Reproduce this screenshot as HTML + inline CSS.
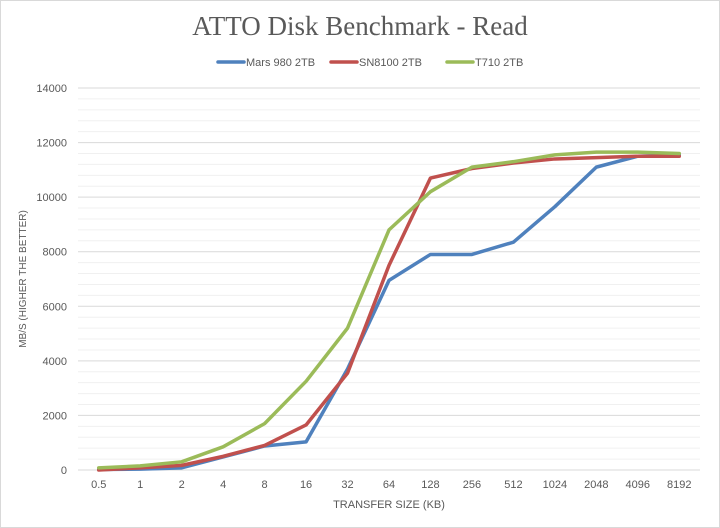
<!DOCTYPE html>
<html><head><meta charset="utf-8"><style>
body{margin:0;background:#fff;}
svg{display:block;font-family:"Liberation Sans",sans-serif;}
</style></head><body>
<svg id="chart" width="720" height="528" viewBox="0 0 720 528">
<rect x="0.5" y="0.5" width="719" height="527" fill="#fff" stroke="#d9d9d9"/>
<text x="360" y="35" text-anchor="middle" font-family="Liberation Serif, serif" font-size="27" fill="#595959">ATTO Disk Benchmark - Read</text>
<g id="legend"></g>
<g id="grid"></g>
<g id="yaxis"></g>
<g id="xaxis"></g>
<g id="series"></g>
<text transform="translate(26,279) rotate(-90)" text-anchor="middle" font-size="10" fill="#595959">MB/S (HIGHER THE BETTER)</text>
<text x="389" y="508" text-anchor="middle" font-size="11" fill="#595959">TRANSFER SIZE (KB)</text>
</svg>
<script>
const categories=["0.5","1","2","4","8","16","32","64","128","256","512","1024","2048","4096","8192"];
const mars=[20,30,80,480,880,1030,3700,6950,7900,7900,8350,9650,11100,11500,11550];
const sn8100=[0,80,170,500,900,1650,3550,7500,10700,11050,11250,11400,11450,11500,11500];
const t710=[80,150,300,850,1700,3250,5200,8800,10200,11100,11300,11550,11650,11650,11600];
const yTicks=[0,2000,4000,6000,8000,10000,12000,14000];
const seriesNames=["Mars 980 2TB","SN8100 2TB","T710 2TB"];
const NS="http://www.w3.org/2000/svg";
const L=78,R=700,T=88,B=470,YMAX=14000;
const x=i=>L+(R-L)/categories.length*(i+0.5);
const y=v=>B-(B-T)*v/YMAX;
function mk(tag,at,parent){const e=document.createElementNS(NS,tag);for(const k in at)e.setAttribute(k,at[k]);parent.appendChild(e);return e;}
const grid=document.getElementById('grid');
for(let v=400;v<YMAX;v+=400){if(v%2000===0)continue;
const l=mk('line',{x1:L,x2:R,y1:y(v),y2:y(v),stroke:'#f0f0f0','stroke-width':1},grid);

}
const ya=document.getElementById('yaxis');
yTicks.forEach(v=>{
const l=mk('line',{x1:L,x2:R,y1:y(v),y2:y(v),stroke:'#d9d9d9','stroke-width':1},grid);


const t=mk('text',{x:67,y:y(v)+4,'text-anchor':'end','font-size':11,fill:'#595959'},ya);
t.textContent=v;

});
const xa=document.getElementById('xaxis');
categories.forEach((c,i)=>{
const t=mk('text',{x:x(i),y:488,'text-anchor':'middle','font-size':11,fill:'#595959'},xa);
t.textContent=c;

});
const colors=["#4f81bd","#c0504d","#9bbb59"];
const sg=document.getElementById('series');
[mars,sn8100,t710].forEach((d,s)=>{
const p=mk('polyline',{points:d.map((v,i)=>x(i)+','+y(v)).join(' '),fill:'none',stroke:colors[s],'stroke-width':3.5,'stroke-linejoin':'round','stroke-linecap':'round'},sg);

});
const lg=document.getElementById('legend');
const lx=[218,331,447];
seriesNames.forEach((n,s)=>{
const g=mk('g',{},lg);


mk('line',{x1:lx[s],x2:lx[s]+26,y1:62,y2:62,stroke:colors[s],'stroke-width':3.5,'stroke-linecap':'round'},g);
const t=mk('text',{x:lx[s]+28,y:66,'font-size':11,fill:'#595959'},g);
t.textContent=n;});
</script>
</body></html>
